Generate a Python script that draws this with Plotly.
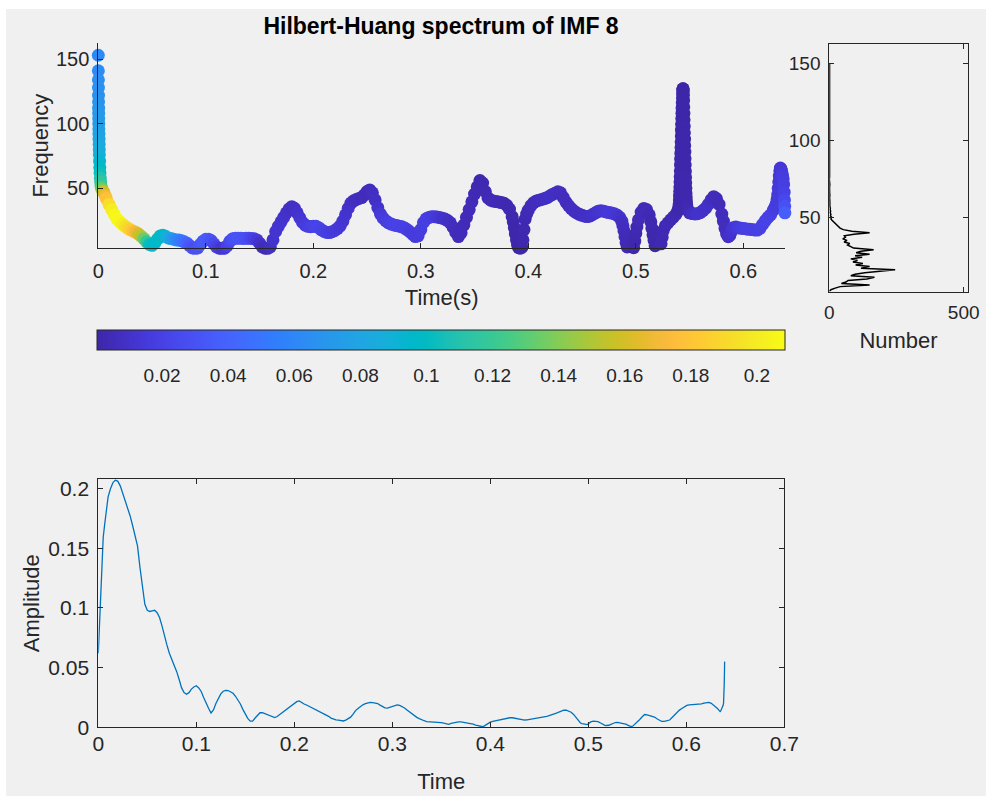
import plotly.graph_objects as go

# ---------------- data ----------------
# Hilbert spectrum samples: time (s), instantaneous frequency (Hz), amplitude
time_s = [
    0.00000, 0.00005, 0.00010, 0.00015, 0.00020, 0.00025, 0.00030, 0.00035, 0.00040, 0.00045,
    0.00050, 0.00060, 0.00070, 0.00080, 0.00090, 0.00100, 0.00120, 0.00140, 0.00160, 0.00190,
    0.00220, 0.00250, 0.0030, 0.0040, 0.0050, 0.0065, 0.0075, 0.0100, 0.0125, 0.0150,
    0.0175, 0.0200, 0.0225, 0.0250, 0.0275, 0.0300, 0.0325, 0.0350, 0.0375, 0.0400,
    0.0425, 0.0450, 0.0475, 0.0500, 0.0525, 0.0550, 0.0575, 0.0600, 0.0625, 0.0650,
    0.0675, 0.0700, 0.0725, 0.0750, 0.0775, 0.0800, 0.0825, 0.0850, 0.0875, 0.0900,
    0.0925, 0.0950, 0.0975, 0.1000, 0.1025, 0.1050, 0.1075, 0.1100, 0.1125, 0.1150,
    0.1175, 0.1200, 0.1225, 0.1250, 0.1275, 0.1300, 0.1325, 0.1350, 0.1375, 0.1400,
    0.1425, 0.1450, 0.1475, 0.1500, 0.1525, 0.1550, 0.1575, 0.1600, 0.1625, 0.1650,
    0.1675, 0.1700, 0.1725, 0.1750, 0.1775, 0.1800, 0.1825, 0.1850, 0.1875, 0.1900,
    0.1925, 0.1950, 0.1975, 0.2000, 0.2025, 0.2050, 0.2075, 0.2100, 0.2125, 0.2150,
    0.2175, 0.2200, 0.2225, 0.2250, 0.2275, 0.2300, 0.2325, 0.2350, 0.2375, 0.2400,
    0.2425, 0.2450, 0.2475, 0.2500, 0.2525, 0.2550, 0.2575, 0.2600, 0.2625, 0.2650,
    0.2675, 0.2700, 0.2725, 0.2750, 0.2775, 0.2800, 0.2825, 0.2850, 0.2875, 0.2900,
    0.2925, 0.2950, 0.2975, 0.3000, 0.3025, 0.3050, 0.3075, 0.3100, 0.3125, 0.3150,
    0.3175, 0.3200, 0.3225, 0.3250, 0.3275, 0.3300, 0.3325, 0.3350, 0.3375, 0.3400,
    0.3425, 0.3450, 0.3475, 0.3500, 0.3525, 0.3550, 0.3575, 0.3600, 0.3625, 0.3650,
    0.3675, 0.3700, 0.3725, 0.3750, 0.3775, 0.3800, 0.3825, 0.3850, 0.3860, 0.3870,
    0.3880, 0.3890, 0.3900, 0.3910, 0.3925, 0.3940, 0.3950, 0.3960, 0.3970, 0.3985,
    0.4000, 0.4025, 0.4050, 0.4075, 0.4100, 0.4125, 0.4150, 0.4175, 0.4200, 0.4225,
    0.4250, 0.4275, 0.4300, 0.4325, 0.4350, 0.4375, 0.4400, 0.4425, 0.4450, 0.4475,
    0.4500, 0.4525, 0.4550, 0.4575, 0.4600, 0.4625, 0.4650, 0.4675, 0.4700, 0.4725,
    0.4750, 0.4775, 0.4800, 0.4825, 0.4850, 0.4870, 0.4880, 0.4890, 0.4900, 0.4910,
    0.4920, 0.4935, 0.4950, 0.4965, 0.4980, 0.4990, 0.5000, 0.5010, 0.5025, 0.5050,
    0.5075, 0.5100, 0.5125, 0.5140, 0.5150, 0.5160, 0.5170, 0.5180, 0.5195, 0.5210,
    0.5225, 0.5235, 0.5245, 0.5255, 0.5275, 0.5300, 0.5325, 0.5350, 0.5375, 0.5390,
    0.54000, 0.54020, 0.54040, 0.54055, 0.54070, 0.54085, 0.54100, 0.54115, 0.54130, 0.54145,
    0.54160, 0.54175, 0.54190, 0.54205, 0.54220, 0.54235, 0.54250, 0.54265, 0.54280, 0.54295,
    0.54310, 0.54325, 0.54340, 0.54355, 0.54370, 0.54385, 0.54400, 0.54415, 0.54430, 0.54445,
    0.54460, 0.54475, 0.54490, 0.54505, 0.54520, 0.54535, 0.54550, 0.54565, 0.54580, 0.54595,
    0.54610, 0.54625, 0.54640, 0.54655, 0.54670, 0.54685, 0.54700, 0.54725, 0.54750, 0.5485,
    0.5500, 0.5525, 0.5550, 0.5575,
    0.5600, 0.5625, 0.5650, 0.5675, 0.5700, 0.5725, 0.5750, 0.5775, 0.5800, 0.5815,
    0.5830, 0.5845, 0.5860, 0.5875, 0.5890, 0.5905, 0.5930, 0.5955, 0.5980, 0.6005,
    0.6030, 0.6055, 0.6080, 0.6105, 0.6130, 0.6155, 0.6180, 0.6205, 0.6230, 0.6255,
    0.6280, 0.6290, 0.6300, 0.6305, 0.6310, 0.6315, 0.6320, 0.6325, 0.6330, 0.6335,
    0.6340, 0.6345, 0.6350, 0.6355, 0.6360, 0.6365, 0.6370,
    0.6375, 0.6380, 0.6383, 0.6385, 0.6387, 0.6389, 0.6390, 0.6391,
]

freq_hz = [
    153, 141, 134, 128, 122, 117, 112, 108, 104, 100,
    96, 92, 88, 84, 80, 76, 71, 66, 62, 58,
    55, 52, 50, 48, 47, 44, 42, 37.5, 33.5, 29.5,
    26, 24, 22.3, 20.5, 19, 17.8, 16.8, 15.8, 14.5, 12.8,
    10.8, 8.5, 6.5, 5.8, 7.5, 10.5, 13, 13.7, 12.8, 11.5,
    11, 10.5, 10, 9.9, 9.3, 8.5, 7.5, 5.5, 3.8, 3.5,
    3.8, 6.5, 9, 10.5, 10.6, 9.5, 7, 4.5, 3.6, 3.5,
    3.6, 5.5, 9, 10.8, 11.2, 11.3, 11.2, 11.1, 11.2, 11.2,
    11.1, 10.8, 10, 7.5, 4.5, 3.6, 3.5, 4.5, 10, 16.5,
    20.5, 24, 27.5, 31, 34, 35.7, 34.5, 31, 27, 23.5,
    21.5, 20.5, 20.2, 20.5, 20.5, 19.5, 17.8, 16.6, 15.8, 15.7,
    16.3, 17.3, 18.8, 20.8, 24.5, 29.5, 34.5, 38.5, 40.3, 41.3,
    42.1, 42.8, 44.8, 47.5, 48.7, 46.5, 41, 35, 30, 26.8,
    24.7, 23.2, 22.3, 21.6, 21.1, 20.6, 20.1, 19.2, 17.8, 16.2,
    14.2, 12.6, 13.2, 18, 23.5, 26.3, 27.4, 28, 28, 27.8,
    27.3, 26.8, 26.1, 25, 23.2, 19.8, 15.8, 12.6, 15.5, 21.5,
    27.5, 33.5, 39.5, 45.5, 51, 56, 54, 47.5, 42.5, 40.8,
    40.1, 39.7, 39.4, 38.9, 38.4, 36.8, 33.8, 28, 24, 19.5,
    14.5, 10, 6, 4, 3.6, 4.2, 10, 18, 26, 30,
    33, 36.5, 38.8, 40.2, 40.8, 41.3, 42, 42.7, 44, 45.2,
    46.2, 47.2, 46.5, 43, 39.3, 36.5, 34.2, 32.3, 30.9, 29.8,
    29, 28.4, 28.1, 28.6, 29.7, 31, 32.1, 32.6, 32.2, 31.7,
    31.2, 30.8, 30.2, 29.2, 27.5, 24.5, 21, 17, 12.5, 8,
    4.5, 3.2, 3, 3.1, 4, 9, 15, 20, 25.5, 31.5,
    34.4, 33.5, 29.5, 24, 19, 14, 9.8, 5.5, 3.2, 3,
    3.3, 7, 12, 17, 20.8, 23.3, 25.6, 27.7, 30, 32.5,
    34, 36, 38, 41, 44, 47.5, 51, 55, 59, 63.5,
    68, 72.5, 77, 81.5, 86, 90.5, 95, 99.5, 104, 108,
    112, 116, 120, 123, 126, 127, 127, 125, 122, 118,
    113, 108, 103, 98, 93, 88, 83, 78, 73, 68,
    63, 58.5, 54, 50, 46, 43, 40, 38, 36, 33,
    31, 30.4, 30.1, 30.3,
    31.2, 32.7, 34.6, 37.5, 41, 43.5, 42, 37.5, 30, 24.5,
    19, 14.5, 12.5, 13.5, 16.5, 19.5, 20, 19.5, 19, 18.8,
    18.5, 18.2, 18, 17.7, 17.6, 19, 22, 25, 27.5, 29.5,
    33, 34.5, 36, 37, 38.5, 41.5, 45, 50, 55, 59.5,
    63.5, 65.6, 65, 63.7, 62, 59.5, 57,
    53, 47, 41, 36, 31, 26, 22, 19,
]

amplitude = [
    0.062, 0.063, 0.065, 0.066, 0.067, 0.068, 0.069, 0.071, 0.072, 0.073,
    0.075, 0.077, 0.080, 0.082, 0.085, 0.088, 0.093, 0.098, 0.103, 0.109,
    0.115, 0.121, 0.131, 0.146, 0.159, 0.170, 0.178, 0.193, 0.200, 0.205,
    0.207, 0.206, 0.202, 0.196, 0.190, 0.184, 0.177, 0.169, 0.160, 0.152,
    0.134, 0.118, 0.103, 0.098, 0.097, 0.0975, 0.098, 0.096, 0.092, 0.085,
    0.076, 0.069, 0.062, 0.057, 0.051, 0.0466, 0.040, 0.033, 0.029, 0.0277,
    0.029, 0.032, 0.0338, 0.0348, 0.033, 0.030, 0.025, 0.020, 0.016, 0.012,
    0.0145, 0.020, 0.0245, 0.028, 0.0302, 0.031, 0.0308, 0.0298, 0.0285, 0.026,
    0.0228, 0.0195, 0.015, 0.011, 0.0075, 0.0052, 0.0052, 0.0078, 0.0105, 0.0122,
    0.0123, 0.0115, 0.0106, 0.0098, 0.009, 0.0082, 0.009, 0.0105, 0.0122, 0.0138,
    0.0155, 0.0172, 0.0187, 0.020, 0.0215, 0.0221, 0.0207, 0.0195, 0.0187, 0.0177,
    0.0167, 0.0156, 0.0146, 0.0136, 0.0127, 0.0116, 0.0104, 0.0092, 0.0077, 0.0067,
    0.0063, 0.006, 0.0056, 0.0053, 0.006, 0.007, 0.0085, 0.011, 0.014, 0.0158,
    0.0174, 0.0188, 0.0198, 0.0205, 0.0209, 0.0206, 0.0203, 0.0199, 0.0186, 0.0175,
    0.0163, 0.016, 0.0166, 0.0174, 0.0182, 0.0187, 0.0183, 0.0174, 0.0162, 0.0145,
    0.0128, 0.011, 0.0096, 0.0083, 0.0073, 0.0062, 0.0055, 0.0048, 0.0047, 0.0047,
    0.0047, 0.0047, 0.0045, 0.004, 0.0034, 0.0028, 0.0025, 0.0032, 0.0038, 0.0043,
    0.0046, 0.0046, 0.0043, 0.0039, 0.0035, 0.0031, 0.0026, 0.0019, 0.0017, 0.0015,
    0.0013, 0.0011, 0.0008, 0.0006, 0.0005, 0.0012, 0.0018, 0.0024, 0.0030, 0.0036,
    0.0043, 0.0049, 0.0054, 0.0059, 0.0064, 0.0068, 0.0072, 0.0076, 0.0080, 0.0080,
    0.0076, 0.0071, 0.0067, 0.0063, 0.0061, 0.0063, 0.0066, 0.0068, 0.0071, 0.0073,
    0.0076, 0.0081, 0.0086, 0.0091, 0.0097, 0.0103, 0.0111, 0.0119, 0.0128, 0.0137,
    0.0143, 0.0144, 0.0138, 0.0126, 0.0108, 0.0085, 0.0072, 0.0060, 0.0050, 0.0042,
    0.0036, 0.0031, 0.0027, 0.0023, 0.0019, 0.0022, 0.0029, 0.0036, 0.0045, 0.0052,
    0.0051, 0.0047, 0.0036, 0.0028, 0.0024, 0.0020, 0.0017, 0.0015, 0.0014, 0.0017,
    0.0023, 0.0027, 0.0031, 0.0035, 0.0040, 0.0041, 0.0038, 0.0035, 0.0033, 0.0025,
    0.0018, 0.0017, 0.0016, 0.0015, 0.0014, 0.0013, 0.0012, 0.0011, 0.0011, 0.0010,
    0.0010, 0.0009, 0.0009, 0.0008, 0.0008, 0.0007, 0.0007, 0.0006, 0.0006, 0.0006,
    0.0005, 0.0005, 0.0005, 0.0005, 0.0005, 0.0005, 0.0005, 0.0005, 0.0005, 0.0006,
    0.0006, 0.0007, 0.0007, 0.0008, 0.0009, 0.0010, 0.0011, 0.0012, 0.0013, 0.0014,
    0.0015, 0.0016, 0.0017, 0.0018, 0.0019, 0.0020, 0.0021, 0.0023, 0.0025, 0.0032,
    0.0045, 0.0066, 0.0088, 0.0107,
    0.0104, 0.0097, 0.0091, 0.0086, 0.0071, 0.0057, 0.0049, 0.0049, 0.0054, 0.0058,
    0.0061, 0.0073, 0.0085, 0.0098, 0.0111, 0.0127, 0.0144, 0.0158, 0.0172, 0.0184,
    0.0188, 0.0189, 0.0190, 0.0191, 0.0193, 0.0197, 0.0202, 0.0206, 0.0209, 0.0201,
    0.0187, 0.0179, 0.0171, 0.0168, 0.0165, 0.0160, 0.0156, 0.0150, 0.0145, 0.0139,
    0.0134, 0.0131, 0.0135, 0.0142, 0.0150, 0.0160, 0.0170,
    0.0182, 0.0200, 0.0240, 0.0290, 0.0360, 0.0440, 0.0500, 0.0550,
]

# marginal histogram of instantaneous frequency: bin centre (Hz) and count
hist_freq = list(range(2, 161))
hist_count = [
    0, 6, 22, 40, 150, 45, 62, 70, 140, 168,
    80, 96, 132, 178, 245, 118, 150, 98, 125, 88,
    105, 80, 122, 96, 150, 100, 118, 165, 90, 80,
    68, 76, 55, 66, 50, 60, 56, 92, 150, 84,
    52, 40, 34, 26, 20, 13, 10, 6, 9, 4,
    6, 3, 5, 3, 4, 2, 3, 2, 2, 1,
    2, 1, 2, 1, 2, 1, 1, 0, 1, 2,
    1, 1, 1, 0, 1, 1, 2, 1, 1, 0,
    1, 1, 1, 2, 1, 0, 1, 1, 1, 1,
    0, 1, 2, 1, 1, 0, 1, 1, 1, 1,
    2, 1, 0, 1, 1, 1, 0, 1, 1, 2,
    1, 1, 0, 1, 1, 1, 1, 0, 1, 1,
    2, 1, 1, 0, 1, 1, 1, 1, 0, 1,
    1, 1, 2, 1, 0, 1, 1, 1, 0, 1,
    1, 1, 1, 0, 1, 1, 1, 0, 1,
]

top_xticks = [0, 0.1, 0.2, 0.3, 0.4, 0.5, 0.6]
top_xlabels = ["0", "0.1", "0.2", "0.3", "0.4", "0.5", "0.6"]
freq_ticks = [50, 100, 150]
freq_labels = ["50", "100", "150"]
cbar_ticks = [0.02, 0.04, 0.06, 0.08, 0.1, 0.12, 0.14, 0.16, 0.18, 0.2]
cbar_labels = ["0.02", "0.04", "0.06", "0.08", "0.1", "0.12", "0.14", "0.16", "0.18", "0.2"]
count_ticks = [0, 500]
count_labels = ["0", "500"]
bot_xticks = [0, 0.1, 0.2, 0.3, 0.4, 0.5, 0.6, 0.7]
bot_xlabels = ["0", "0.1", "0.2", "0.3", "0.4", "0.5", "0.6", "0.7"]
amp_ticks = [0, 0.05, 0.1, 0.15, 0.2]
amp_labels = ["0", "0.05", "0.1", "0.15", "0.2"]

# ---------------- styling ----------------
PARULA_RGB = [
    (0.2422, 0.1504, 0.6603), (0.2504, 0.1650, 0.7076), (0.2578, 0.1818, 0.7511), (0.2647, 0.1978, 0.7952),
    (0.2706, 0.2147, 0.8364), (0.2751, 0.2342, 0.8710), (0.2783, 0.2559, 0.8991), (0.2803, 0.2782, 0.9221),
    (0.2813, 0.3006, 0.9414), (0.2810, 0.3228, 0.9579), (0.2795, 0.3447, 0.9717), (0.2760, 0.3667, 0.9829),
    (0.2699, 0.3892, 0.9906), (0.2602, 0.4123, 0.9952), (0.2440, 0.4358, 0.9988), (0.2206, 0.4603, 0.9973),
    (0.1963, 0.4847, 0.9892), (0.1834, 0.5074, 0.9798), (0.1786, 0.5289, 0.9682), (0.1764, 0.5499, 0.9520),
    (0.1687, 0.5703, 0.9359), (0.1540, 0.5902, 0.9218), (0.1460, 0.6091, 0.9079), (0.1380, 0.6276, 0.8973),
    (0.1248, 0.6459, 0.8883), (0.1113, 0.6635, 0.8763), (0.0952, 0.6798, 0.8598), (0.0689, 0.6948, 0.8394),
    (0.0297, 0.7082, 0.8163), (0.0036, 0.7203, 0.7917), (0.0067, 0.7312, 0.7660), (0.0433, 0.7411, 0.7394),
    (0.0964, 0.7500, 0.7120), (0.1408, 0.7584, 0.6842), (0.1717, 0.7670, 0.6554), (0.1938, 0.7758, 0.6251),
    (0.2161, 0.7843, 0.5923), (0.2470, 0.7918, 0.5567), (0.2906, 0.7973, 0.5188), (0.3406, 0.8008, 0.4789),
    (0.3909, 0.8029, 0.4354), (0.4456, 0.8024, 0.3909), (0.5044, 0.7993, 0.3480), (0.5616, 0.7942, 0.3045),
    (0.6174, 0.7876, 0.2612), (0.6720, 0.7793, 0.2227), (0.7242, 0.7698, 0.1910), (0.7738, 0.7598, 0.1646),
    (0.8203, 0.7498, 0.1535), (0.8634, 0.7406, 0.1596), (0.9035, 0.7330, 0.1774), (0.9393, 0.7288, 0.2100),
    (0.9728, 0.7298, 0.2394), (0.9956, 0.7434, 0.2371), (0.9970, 0.7659, 0.2199), (0.9952, 0.7893, 0.2028),
    (0.9892, 0.8136, 0.1885), (0.9786, 0.8386, 0.1766), (0.9676, 0.8639, 0.1643), (0.9610, 0.8890, 0.1537),
    (0.9597, 0.9135, 0.1423), (0.9628, 0.9373, 0.1265), (0.9691, 0.9606, 0.1064), (0.9769, 0.9839, 0.0805),
]
PARULA = [[i / (len(PARULA_RGB) - 1),
           "rgb(%d,%d,%d)" % tuple(round(255 * c) for c in rgb)]
          for i, rgb in enumerate(PARULA_RGB)]

W, H = 986, 796
FONT = "Liberation Sans, Arial, Helvetica, sans-serif"
INK = "#262626"


def fx(px):
    return px / W


def fy(py):
    return 1 - py / H


def tfont(size):
    return dict(family=FONT, size=size, color=INK)


fig = go.Figure()

fig.add_trace(go.Scatter(
    x=time_s, y=freq_hz, mode="markers", xaxis="x", yaxis="y",
    cliponaxis=False, showlegend=False, hoverinfo="skip",
    marker=dict(
        symbol="circle", size=13, color=amplitude, colorscale=PARULA,
        cmin=0.0003, cmax=0.2085, line=dict(width=0), opacity=1,
        showscale=True,
        colorbar=dict(
            orientation="h", x=fx(97), xanchor="left", y=fy(330), yanchor="top",
            len=688, lenmode="pixels", thickness=20, thicknessmode="pixels",
            xpad=0, ypad=0, outlinewidth=1, outlinecolor=INK, borderwidth=0,
            tickvals=cbar_ticks, ticktext=cbar_labels, ticks="outside",
            ticklen=9, tickcolor="rgba(0,0,0,0)", tickfont=tfont(19),
        ),
    ),
))

fig.add_trace(go.Scatter(
    x=hist_count, y=hist_freq, mode="lines", xaxis="x2", yaxis="y2",
    line=dict(color="black", width=1.5), showlegend=False, hoverinfo="skip",
))

fig.add_trace(go.Scatter(
    x=time_s, y=amplitude, mode="lines", xaxis="x3", yaxis="y3",
    line=dict(color="#0072bd", width=1.3), showlegend=False, hoverinfo="skip",
))

common = dict(showgrid=False, zeroline=False, showline=True, linecolor=INK, linewidth=1,
              ticks="inside", ticklen=5, tickcolor=INK, automargin=False)

fig.update_layout(
    width=W, height=H, margin=dict(l=0, r=0, t=0, b=0),
    template="none", paper_bgcolor="white", plot_bgcolor="white",
    font=dict(family=FONT, color=INK),
    title=dict(text="<b>Hilbert-Huang spectrum of IMF 8</b>", x=fx(441), xanchor="center",
               y=fy(26), yanchor="middle", font=dict(family=FONT, size=23, color="black")),
    xaxis=dict(common, domain=[fx(98.3), fx(785)], range=[0, 0.6388], anchor="y",
               tickvals=top_xticks, ticktext=top_xlabels, tickfont=tfont(20),
               ticklabelstandoff=5,
               title=dict(text="Time(s)", font=tfont(22), standoff=8)),
    yaxis=dict(common, domain=[fy(248.3), fy(43)], range=[3.5, 162.5], anchor="x",
               tickvals=freq_ticks, ticktext=freq_labels, tickfont=tfont(20),
               ticklabelstandoff=4,
               title=dict(text="Frequency", font=tfont(22), standoff=1)),
    xaxis2=dict(common, domain=[fx(829.3), fx(967.7)], range=[0, 515], anchor="y2",
                mirror="ticks", tickvals=count_ticks, ticktext=count_labels, tickfont=tfont(19),
                ticklabelstandoff=3,
                title=dict(text="Number", font=tfont(22), standoff=11)),
    yaxis2=dict(common, domain=[fy(291.7), fy(44)], range=[1.7, 162.5], anchor="x2",
                mirror="ticks", tickvals=freq_ticks, ticktext=freq_labels, tickfont=tfont(19),
                ticklabelstandoff=4),
    xaxis3=dict(common, domain=[fx(98.3), fx(784.3)], range=[0, 0.7], anchor="y3",
                mirror="ticks", tickvals=bot_xticks, ticktext=bot_xlabels, tickfont=tfont(21),
                ticklabelstandoff=-3,
                title=dict(text="Time", font=tfont(22), standoff=20)),
    yaxis3=dict(common, domain=[fy(727.3), fy(479.3)], range=[0, 0.2077], anchor="x3",
                mirror="ticks", tickvals=amp_ticks, ticktext=amp_labels, tickfont=tfont(21),
                ticklabelstandoff=4,
                title=dict(text="Amplitude", font=tfont(22), standoff=2)),
    shapes=[dict(type="rect", xref="paper", yref="paper", x0=fx(6), x1=1, y0=0, y1=fy(9),
                 fillcolor="#f0f0f0", line=dict(width=0), layer="below")],
)

fig.write_html("out.html")
